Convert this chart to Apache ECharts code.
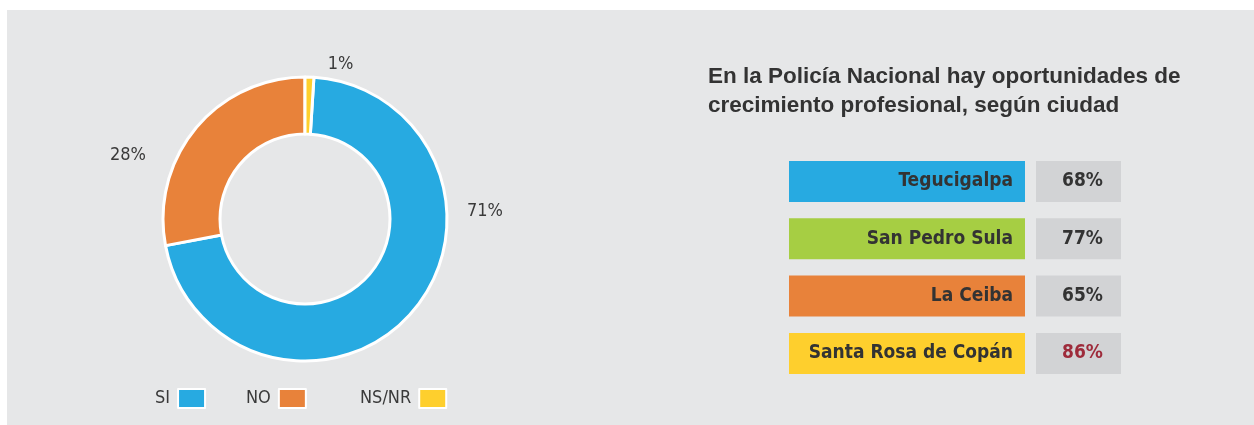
<!DOCTYPE html>
<html>
<head>
<meta charset="utf-8">
<script src="https://cdn.jsdelivr.net/npm/echarts@6/dist/echarts.min.js"></script>
<style>
html,body{margin:0;padding:0;background:#ffffff;}
#chart{width:1254px;height:425px;}
</style>
</head>
<body>
<div id="chart"></div>
<script>
// ---- data ----
const pieNames = ['SI', 'NO', 'NS/NR'];
const pieValues = [71, 28, 1];
const pieColors = ['#27aae1', '#e8823a', '#fecf2d'];

const cities = ['Tegucigalpa', 'San Pedro Sula', 'La Ceiba', 'Santa Rosa de Copán'];
const cityValues = [68, 77, 65, 86];
const cityColors = ['#27aae1', '#a6ce43', '#e8823a', '#fecf2d'];
const valueTextColors = ['#333333', '#333333', '#333333', '#9e2b3b'];

const titleText = 'En la Policía Nacional hay oportunidades de\ncrecimiento profesional, según ciudad';

const BG = '#e6e7e8';
const COND = '"DejaVu Sans Condensed", "DejaVu Sans", sans-serif';

const chart = echarts.init(document.getElementById('chart'));
const total = pieValues.reduce((a, b) => a + b, 0);

// label nudges (pixels) relative to the default outside position
const labelOffsets = [[43, -108], [-37, 33], [13, -3]];
const BOX_RATIO = 0.715; // box height as share of a category band

function boxRenderer(kind) {
  return function (params, api) {
    const i = api.value(1);
    const c = api.coord([0, i]);
    const s = api.size([1, 1]);
    const h = s[1] * BOX_RATIO;
    const isCity = kind === 'city';
    return {
      type: 'rect',
      shape: {x: c[0] - s[0] / 2, y: c[1] - h / 2, width: s[0], height: h},
      style: {fill: isCity ? cityColors[i] : '#d2d3d5'},
      textContent: {
        style: {
          text: isCity ? cities[i] : api.value(2) + '%',
          fill: isCity ? '#333333' : valueTextColors[i],
          fontFamily: COND, fontSize: 19, fontWeight: 'bold'
        }
      },
      textConfig: isCity ? {position: 'insideRight', distance: 12} : {position: 'inside', offset: [4, 0]}
    };
  };
}

const option = {
  backgroundColor: '#ffffff',
  animation: false,
  graphic: [{
    type: 'rect', silent: true, z: -10,
    shape: {x: 7, y: 10, width: 1247, height: 415},
    style: {fill: BG}
  }],
  title: {
    text: titleText,
    left: 708, top: 62, padding: 0,
    textStyle: {fontFamily: '"Liberation Sans", Arial, sans-serif', fontSize: 22.5, fontWeight: 'bold', color: '#333333', lineHeight: 29}
  },
  legend: pieNames.map((n, i) => ({
    data: [n],
    left: [155, 246, 360][i], top: 388, padding: 0,
    align: 'right',
    icon: 'rect', itemWidth: 27, itemHeight: 19,
    selectedMode: false,
    textStyle: {fontFamily: COND, fontSize: 18, color: '#3a3a3a', padding: [0, 3, 0, 0]}
  })),
  grid: [
    {left: 789, width: 236, top: 152.8, height: 229.3},
    {left: 1036, width: 85, top: 152.8, height: 229.3}
  ],
  xAxis: [
    {type: 'category', gridIndex: 0, data: ['Ciudad'], show: false},
    {type: 'category', gridIndex: 1, data: ['Porcentaje'], show: false}
  ],
  yAxis: [
    {type: 'category', gridIndex: 0, data: cities, inverse: true, show: false},
    {type: 'category', gridIndex: 1, data: cities, inverse: true, show: false}
  ],
  series: [
    {
      type: 'pie',
      center: [305, 219],
      radius: [85, 142],
      startAngle: 90 - 360 * pieValues[2] / total,
      clockwise: true,
      avoidLabelOverlap: false,
      itemStyle: {borderColor: '#ffffff', borderWidth: 3},
      label: {show: true, position: 'outside', formatter: '{c}%', fontFamily: COND, fontSize: 18, color: '#3a3a3a'},
      labelLine: {show: false, length: 10, length2: 0},
      labelLayout: function (p) { return {dx: labelOffsets[p.dataIndex][0], dy: labelOffsets[p.dataIndex][1]}; },
      emphasis: {disabled: true},
      data: pieNames.map((n, i) => ({name: n, value: pieValues[i], itemStyle: {color: pieColors[i]}}))
    },
    {
      type: 'custom', name: 'Ciudad',
      xAxisIndex: 0, yAxisIndex: 0,
      renderItem: boxRenderer('city'),
      encode: {x: 0, y: 1},
      data: cities.map((c, i) => [0, i, cityValues[i]])
    },
    {
      type: 'custom', name: 'Porcentaje',
      xAxisIndex: 1, yAxisIndex: 1,
      renderItem: boxRenderer('value'),
      encode: {x: 0, y: 1},
      data: cities.map((c, i) => [0, i, cityValues[i]])
    }
  ]
};
chart.setOption(option);
</script>
</body>
</html>
